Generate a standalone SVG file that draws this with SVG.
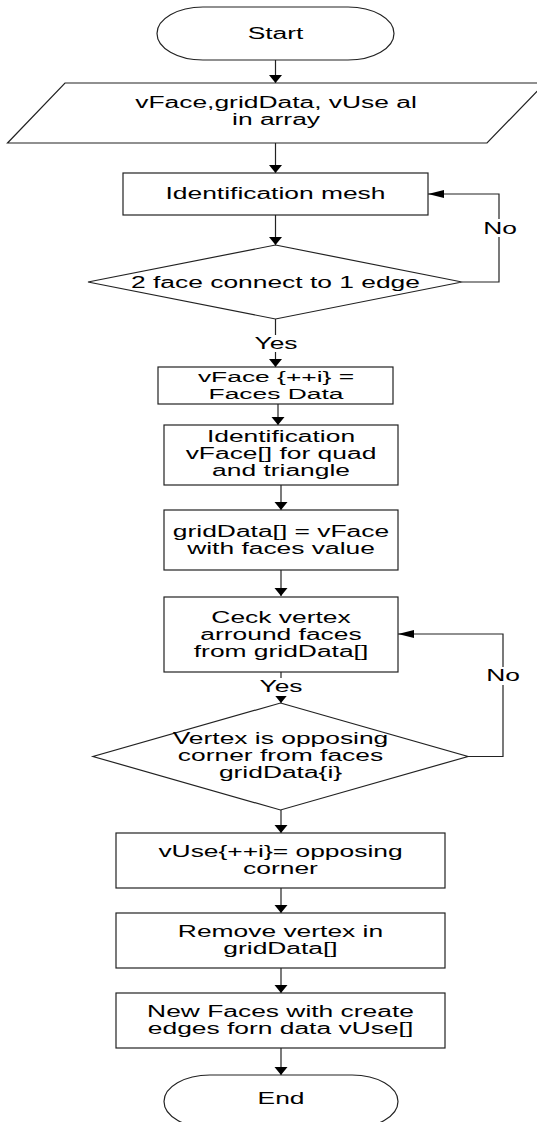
<svg xmlns="http://www.w3.org/2000/svg" width="537" height="1122" viewBox="0 0 537 1122">
<style>
.s{fill:#fff;stroke:#222;stroke-width:1.2}
.c{fill:none;stroke:#222;stroke-width:1.2}
.t{font-family:"Liberation Sans",Arial,sans-serif;font-size:16px;fill:#000;text-anchor:middle}
.sm{font-size:14.5px}
.bg{fill:#fff}
</style>
<defs>
<marker id="ad" markerUnits="userSpaceOnUse" orient="0" refX="7" refY="9" markerWidth="14" markerHeight="10" viewBox="0 0 14 10" overflow="visible"><path d="M0.5 1 L13.5 1 L7 9 Z" fill="#000"/></marker>
<marker id="al" markerUnits="userSpaceOnUse" orient="0" refX="0" refY="4.5" markerWidth="17" markerHeight="9" viewBox="0 0 17 9" overflow="visible"><path d="M0 4.5 L16 0.5 L16 8.5 Z" fill="#000"/></marker>
</defs>
<rect width="537" height="1122" fill="#fff"/>
<g id="connectors">
<path class="c" d="M275.5 60 V83" marker-end="url(#ad)"/>
<path class="c" d="M275.5 143 V173" marker-end="url(#ad)"/>
<path class="c" d="M275.5 215 V245" marker-end="url(#ad)"/>
<path class="c" d="M462 282 H499 V194 H428" marker-end="url(#al)"/>
<path class="c" d="M275.5 319 V367" marker-end="url(#ad)"/>
<path class="c" d="M278 404 V425" marker-end="url(#ad)"/>
<path class="c" d="M281 485 V510" marker-end="url(#ad)"/>
<path class="c" d="M281 570 V596" marker-end="url(#ad)"/>
<path class="c" d="M281 672 V703" marker-end="url(#ad)"/>
<path class="c" d="M468 756.5 H503 V634 H398" marker-end="url(#al)"/>
<path class="c" d="M281 810 V833" marker-end="url(#ad)"/>
<path class="c" d="M281 888 V913" marker-end="url(#ad)"/>
<path class="c" d="M281 968 V993" marker-end="url(#ad)"/>
<path class="c" d="M281 1048 V1075" marker-end="url(#ad)"/>
<rect class="bg" x="484" y="219" width="32" height="18"/>
<text class="t" transform="translate(500 0) scale(1.65 1)"><tspan x="0" y="234">No</tspan></text>
<rect class="bg" x="254" y="335" width="45" height="17"/>
<text class="t" transform="translate(276 0) scale(1.65 1)"><tspan x="0" y="349">Yes</tspan></text>
<rect class="bg" x="487" y="667" width="32" height="18"/>
<text class="t" transform="translate(503 0) scale(1.65 1)"><tspan x="0" y="681.5">No</tspan></text>
<rect class="bg" x="259" y="678" width="45" height="18"/>
<text class="t" transform="translate(281 0) scale(1.65 1)"><tspan x="0" y="692.5">Yes</tspan></text>
</g>
<g id="start">
<rect class="s" x="157" y="7" width="237" height="53" rx="46" ry="26.5"/>
<text class="t" transform="translate(275.5 0) scale(1.65 1)"><tspan x="0" y="39">Start</tspan></text>
</g>
<g id="input">
<polygon class="s" points="65,83 545,83 487,143 7.5,143"/>
<text class="t" transform="translate(276 0) scale(1.65 1)"><tspan x="0" y="108">vFace,gridData, vUse al</tspan><tspan x="0" y="125">in array</tspan></text>
</g>
<g id="identMesh">
<rect class="s" x="123" y="173" width="305" height="42"/>
<text class="t" transform="translate(275.5 0) scale(1.65 1)"><tspan x="0" y="199.5">Identification mesh</tspan></text>
</g>
<g id="decision1">
<polygon class="s" points="275.5,245 462,282 275.5,319 88,282"/>
<text class="t" transform="translate(275.5 0) scale(1.65 1)"><tspan x="0" y="288">2 face connect to 1 edge</tspan></text>
</g>
<g id="vFaceData">
<rect class="s" x="158" y="367" width="235" height="37"/>
<text class="t sm" transform="translate(276 0) scale(1.82 1)"><tspan x="0" y="382">vFace {++i} =</tspan><tspan x="0" y="399">Faces Data</tspan></text>
</g>
<g id="identVFace">
<rect class="s" x="164" y="425" width="234" height="60"/>
<text class="t" transform="translate(281 0) scale(1.65 1)"><tspan x="0" y="442.5">Identification</tspan><tspan x="0" y="459.5">vFace[] for quad</tspan><tspan x="0" y="476.5">and triangle</tspan></text>
</g>
<g id="gridData">
<rect class="s" x="164" y="510" width="234" height="60"/>
<text class="t" transform="translate(281 0) scale(1.65 1)"><tspan x="0" y="537.5">gridData[] = vFace</tspan><tspan x="0" y="554.5">with faces value</tspan></text>
</g>
<g id="checkVertex">
<rect class="s" x="164" y="597" width="234" height="75"/>
<text class="t" transform="translate(281 0) scale(1.65 1)"><tspan x="0" y="623.5">Ceck vertex</tspan><tspan x="0" y="640.5">arround faces</tspan><tspan x="0" y="657.5">from gridData[]</tspan></text>
</g>
<g id="decision2">
<polygon class="s" points="280.5,703 468,756.5 280.5,810 93,756.5"/>
<text class="t" transform="translate(280.5 0) scale(1.65 1)"><tspan x="0" y="744.5">Vertex is opposing</tspan><tspan x="0" y="761.5">corner from faces</tspan><tspan x="0" y="778.5">gridData{i}</tspan></text>
</g>
<g id="vUse">
<rect class="s" x="116" y="833" width="329" height="55"/>
<text class="t" transform="translate(280.5 0) scale(1.65 1)"><tspan x="0" y="857.5">vUse{++i}= opposing</tspan><tspan x="0" y="874.5">corner</tspan></text>
</g>
<g id="removeVertex">
<rect class="s" x="116" y="913" width="329" height="55"/>
<text class="t" transform="translate(280.5 0) scale(1.65 1)"><tspan x="0" y="937.5">Remove vertex in</tspan><tspan x="0" y="954.5">gridData[]</tspan></text>
</g>
<g id="newFaces">
<rect class="s" x="116" y="993" width="329" height="55"/>
<text class="t" transform="translate(280.5 0) scale(1.65 1)"><tspan x="0" y="1017.5">New Faces with create</tspan><tspan x="0" y="1034.5">edges forn data vUse[]</tspan></text>
</g>
<g id="end">
<rect class="s" x="164" y="1075" width="234" height="53" rx="46" ry="26.5"/>
<text class="t" transform="translate(281 0) scale(1.65 1)"><tspan x="0" y="1104.5">End</tspan></text>
</g>
</svg>
